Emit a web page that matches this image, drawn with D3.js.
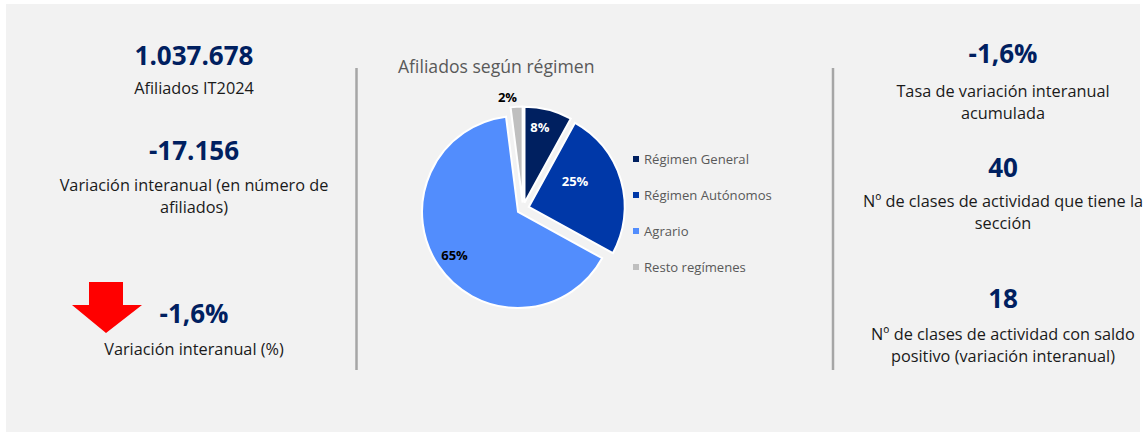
<!DOCTYPE html>
<html>
<head>
<meta charset="utf-8">
<script src="https://cdn.jsdelivr.net/npm/d3@7"></script>
<style>
  body { margin: 0; background: #ffffff; }
  svg { display: block; font-family: "Open Sans", sans-serif; }
</style>
</head>
<body>
<div id="chart"></div>
<script>
// datos del panel
var regimenes = ["Régimen General", "Régimen Autónomos", "Agrario", "Resto regímenes"];
var cuotas = [8, 25, 65, 2];
var colores = ["#002060", "#0038a8", "#528dfd", "#bfbfbf"];

var kpiIzqValores = ["1.037.678", "-17.156", "-1,6%"];
var kpiIzqTextos = [["Afiliados IT2024"], ["Variación interanual (en número de", "afiliados)"], ["Variación interanual (%)"]];
var kpiDerValores = ["-1,6%", "40", "18"];
var kpiDerTextos = [["Tasa de variación interanual", "acumulada"], ["Nº de clases de actividad que tiene la", "sección"], ["Nº de clases de actividad con saldo", "positivo (variación interanual)"]];

var width = 1143, height = 432;

var svg = d3.select("#chart").append("svg")
    .attr("width", width)
    .attr("height", height);

// fondo gris
svg.append("rect")
    .attr("x", 6).attr("y", 4)
    .attr("width", 1134).attr("height", 428)
    .attr("fill", "#f2f2f2");

// separadores
[356.5, 833].forEach(function(x) {
    svg.append("line")
        .attr("x1", x).attr("x2", x)
        .attr("y1", 68).attr("y2", 370)
        .attr("stroke", "#a6a6a6")
        .attr("stroke-width", 2.5);
});

var navy = "#002060", textColor = "#1a1a1a";

function kpiBlock(cx, valY, labY, valor, lineas) {
    svg.append("text")
        .attr("x", cx).attr("y", valY)
        .attr("text-anchor", "middle")
        .style("font-size", "26px")
        .style("font-weight", "bold")
        .attr("fill", navy)
        .text(valor);
    svg.append("g").selectAll("text")
        .data(lineas)
        .enter().append("text")
        .attr("x", cx)
        .attr("y", function(d, i) { return labY + i * 21.5; })
        .attr("text-anchor", "middle")
        .style("font-size", "16.3px")
        .attr("fill", textColor)
        .text(function(d) { return d; });
}

// bloque izquierdo
var izqVal = [65, 160, 323], izqLab = [94, 191, 355];
kpiIzqValores.forEach(function(v, i) {
    kpiBlock(194, izqVal[i], izqLab[i], v, kpiIzqTextos[i]);
});

// flecha roja
svg.append("path")
    .attr("d", "M89,282 H123 V305 H142 L106,333 L72,305 H89 Z")
    .attr("fill", "#ff0000");

// bloque derecho
var derVal = [63, 177, 308], derLab = [97, 207, 340];
kpiDerValores.forEach(function(v, i) {
    kpiBlock(1003, derVal[i], derLab[i], v, kpiDerTextos[i]);
});

// tarta
var radio = 96, cx = 523, cy = 208.6, despl = 6;

svg.append("text")
    .attr("x", 398).attr("y", 73)
    .style("font-size", "17.6px")
    .attr("fill", "#595959")
    .text("Afiliados según régimen");

var pie = d3.pie().sort(null).value(function(d) { return d; });
var arcos = pie(cuotas);
var arc = d3.arc().innerRadius(0).outerRadius(radio);

var gPie = svg.append("g")
    .attr("transform", "translate(" + cx + "," + cy + ")");

function mid(d) { return (d.startAngle + d.endAngle) / 2; }

var sectores = gPie.selectAll("g")
    .data(arcos)
    .enter().append("g")
    .attr("transform", function(d) {
        var a = mid(d);
        return "translate(" + (Math.sin(a) * despl) + "," + (-Math.cos(a) * despl) + ")";
    });

sectores.append("path")
    .attr("d", arc)
    .attr("fill", function(d, i) { return colores[i]; })
    .attr("stroke", "#ffffff")
    .attr("stroke-width", 2);

var radioEtiqueta = [0.8, 0.55, 0.8, 1.11];
var giroEtiqueta = [-0.05, -0.22, 0, -0.08];
var colorEtiqueta = ["#ffffff", "#ffffff", "#000000", "#000000"];

sectores.append("text")
    .attr("x", function(d, i) { return Math.sin(mid(d) + giroEtiqueta[i]) * radio * radioEtiqueta[i]; })
    .attr("y", function(d, i) { return -Math.cos(mid(d) + giroEtiqueta[i]) * radio * radioEtiqueta[i]; })
    .attr("dy", "0.35em")
    .attr("text-anchor", "middle")
    .style("font-size", "13px")
    .style("font-weight", "bold")
    .attr("fill", function(d, i) { return colorEtiqueta[i]; })
    .text(function(d) { return d.data + "%"; });

// leyenda
var yLeyenda = d3.scalePoint()
    .domain(regimenes)
    .range([159, 267]);

var leyenda = svg.append("g").selectAll("g")
    .data(regimenes)
    .enter().append("g")
    .attr("transform", function(d) { return "translate(633," + yLeyenda(d) + ")"; });

leyenda.append("rect")
    .attr("x", 0).attr("y", -3)
    .attr("width", 6).attr("height", 6)
    .attr("fill", function(d, i) { return colores[i]; });

leyenda.append("text")
    .attr("x", 11)
    .attr("dy", "0.35em")
    .style("font-size", "13.1px")
    .attr("fill", "#595959")
    .text(function(d) { return d; });
</script>
</body>
</html>
